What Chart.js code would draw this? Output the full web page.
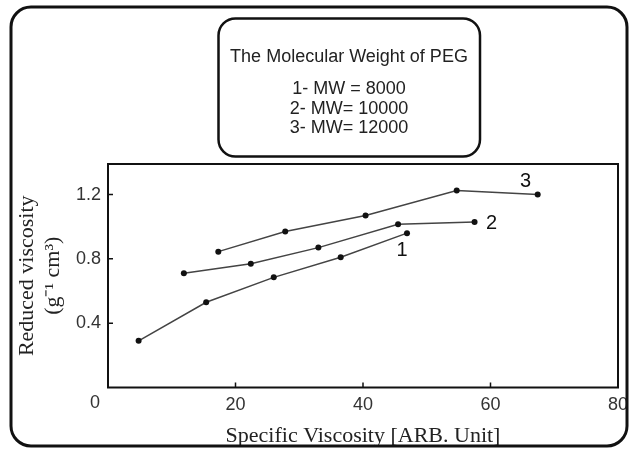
<!DOCTYPE html>
<html>
<head>
<meta charset="utf-8">
<script src="https://cdn.jsdelivr.net/npm/chart.js@4.4.1/dist/chart.umd.min.js"></script>
<style>
  body { margin: 0; background: #fff; }
  canvas { display: block; }
</style>
</head>
<body>
<canvas id="viscChart" width="631" height="449"></canvas>
<script>
// valores
const specVisc1 = [4.8, 15.4, 26.0, 36.5, 46.9];
const redVisc1 = [0.29, 0.53, 0.685, 0.81, 0.96];
const specVisc2 = [11.9, 22.4, 33.0, 45.5, 57.5];
const redVisc2 = [0.71, 0.77, 0.87, 1.015, 1.03];
const specVisc3 = [17.3, 27.8, 40.4, 54.7, 67.4];
const redVisc3 = [0.845, 0.97, 1.07, 1.225, 1.20];

const seriesTags = ['1', '2', '3'];
const legendLines = ['The Molecular Weight of PEG', '1- MW = 8000', '2- MW= 10000', '3- MW= 12000'];
const xTicks = [0, 20, 40, 60, 80];
const yTicks = [0.4, 0.8, 1.2];

function toPoints(xs, ys) {
    return xs.map((x, i) => ({ x: x, y: ys[i] }));
}

function roundRect(ctx, x, y, w, h, r) {
    ctx.beginPath();
    ctx.moveTo(x + r, y);
    ctx.lineTo(x + w - r, y);
    ctx.arcTo(x + w, y, x + w, y + r, r);
    ctx.lineTo(x + w, y + h - r);
    ctx.arcTo(x + w, y + h, x + w - r, y + h, r);
    ctx.lineTo(x + r, y + h);
    ctx.arcTo(x, y + h, x, y + h - r, r);
    ctx.lineTo(x, y + r);
    ctx.arcTo(x, y, x + r, y, r);
    ctx.closePath();
}

// marco, caja de leyenda, marcas internas y numeros de las curvas
const decoPlugin = {
    id: 'deco',
    afterDraw(chart) {
        const ctx = chart.ctx;
        const area = chart.chartArea;
        const xs = chart.scales.x;
        const ys = chart.scales.y;
        ctx.save();

        // marco exterior
        ctx.strokeStyle = '#111';
        ctx.lineWidth = 3;
        roundRect(ctx, 11, 7, 616, 439, 20);
        ctx.stroke();

        // caja del titulo
        ctx.lineWidth = 2.5;
        roundRect(ctx, 218.5, 18.5, 261.5, 138, 17);
        ctx.stroke();
        ctx.fillStyle = '#222';
        ctx.textAlign = 'center';
        ctx.textBaseline = 'middle';
        ctx.font = '18px "Liberation Sans", Arial, sans-serif';
        const lineY = [57, 89, 109, 128];
        legendLines.forEach((txt, i) => ctx.fillText(txt, 349, lineY[i]));

        // recuadro del grafico
        ctx.strokeStyle = '#111';
        ctx.lineWidth = 2;
        ctx.strokeRect(area.left, area.top, area.right - area.left, area.bottom - area.top);

        // marcas hacia dentro
        ctx.lineWidth = 1.5;
        ctx.beginPath();
        xTicks.slice(1, -1).forEach(v => {
            const px = xs.getPixelForValue(v);
            ctx.moveTo(px, area.bottom);
            ctx.lineTo(px, area.bottom - 5);
        });
        yTicks.forEach(v => {
            const py = ys.getPixelForValue(v);
            ctx.moveTo(area.left, py);
            ctx.lineTo(area.left + 5, py);
        });
        ctx.stroke();

        // el "0" del origen
        ctx.fillStyle = '#333';
        ctx.font = '18px "Liberation Sans", Arial, sans-serif';
        ctx.fillText('0', area.left - 13, area.bottom + 16);

        // numeros de cada curva junto al ultimo punto
        const offsets = [[-5, 17], [17, 2], [-12, -13]];
        ctx.fillStyle = '#111';
        ctx.font = '20px "Liberation Sans", Arial, sans-serif';
        chart.data.datasets.forEach((ds, i) => {
            const meta = chart.getDatasetMeta(i);
            const last = meta.data[meta.data.length - 1];
            ctx.fillText(seriesTags[i], last.x + offsets[i][0], last.y + offsets[i][1]);
        });
        ctx.restore();
    }
};

function makeDataset(xs, ys) {
    return {
        data: toPoints(xs, ys),
        showLine: true,
        borderColor: '#444',
        borderWidth: 1.5,
        pointRadius: 3,
        pointBackgroundColor: '#111',
        pointBorderColor: '#111',
        pointBorderWidth: 0,
        fill: false
    };
}

new Chart(document.getElementById('viscChart'), {
    type: 'scatter',
    data: {
        datasets: [
            makeDataset(specVisc1, redVisc1),
            makeDataset(specVisc2, redVisc2),
            makeDataset(specVisc3, redVisc3)
        ]
    },
    options: {
        responsive: false,
        animation: false,
        layout: { padding: { top: 164, right: 13, left: 0, bottom: 0 } },
        plugins: { legend: { display: false }, tooltip: { enabled: false } },
        scales: {
            x: {
                type: 'linear',
                min: 0,
                max: 80,
                afterBuildTicks: scale => { scale.ticks = xTicks.map(v => ({ value: v })); },
                afterFit: scale => {
                    scale.height = 61.5;
                    scale.paddingLeft = 0;
                    scale.paddingRight = 0;
                },
                grid: { display: false, drawTicks: false },
                border: { display: false },
                ticks: {
                    padding: 7,
                    color: '#333',
                    font: { family: '"Liberation Sans", Arial, sans-serif', size: 18 },
                    callback: v => (v === 0 ? '' : String(v))
                },
                title: {
                    display: true,
                    text: 'Specific Viscosity [ARB. Unit]',
                    color: '#222',
                    padding: { top: 0, bottom: 0 },
                    font: { family: '"Liberation Serif", "Times New Roman", serif', size: 22 }
                }
            },
            y: {
                type: 'linear',
                min: 0,
                max: 1.39,
                afterBuildTicks: scale => { scale.ticks = yTicks.map(v => ({ value: v })); },
                afterFit: scale => {
                    scale.width = 108;
                    scale.paddingTop = 0;
                    scale.paddingBottom = 0;
                },
                grid: { display: false, drawTicks: false },
                border: { display: false },
                ticks: {
                    padding: 7,
                    color: '#333',
                    font: { family: '"Liberation Sans", Arial, sans-serif', size: 18 },
                    callback: v => v.toFixed(1)
                },
                title: {
                    display: true,
                    text: ['Reduced viscosity', '(g\u207B\u00B9 cm\u00B3)'],
                    color: '#222',
                    padding: { top: 15, bottom: 0 },
                    font: { family: '"Liberation Serif", "Times New Roman", serif', size: 22, lineHeight: 1.15 }
                }
            }
        }
    },
    plugins: [decoPlugin]
});
</script>
</body>
</html>
